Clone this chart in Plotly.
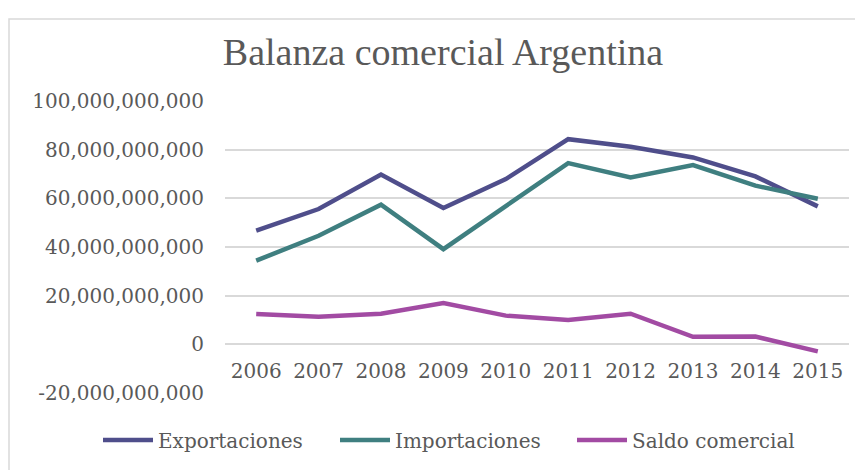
import plotly.graph_objects as go

years = ["2006", "2007", "2008", "2009", "2010", "2011", "2012", "2013", "2014", "2015"]
exportaciones = [46.7e9, 55.6e9, 69.8e9, 56.0e9, 67.9e9, 84.3e9, 81.2e9, 76.8e9, 69.0e9, 56.7e9]
importaciones = [34.4e9, 44.6e9, 57.4e9, 39.1e9, 56.8e9, 74.5e9, 68.6e9, 73.7e9, 65.2e9, 59.8e9]
saldo = [12.5e9, 11.3e9, 12.6e9, 17.0e9, 11.8e9, 10.0e9, 12.6e9, 3.1e9, 3.2e9, -2.9e9]
ytick_vals = [-20e9, 0, 20e9, 40e9, 60e9, 80e9, 100e9]
ytick_text = ["-20,000,000,000", "0", "20,000,000,000", "40,000,000,000",
              "60,000,000,000", "80,000,000,000", "100,000,000,000"]

FONT = "DejaVu Serif"
GREY = "#595959"

fig = go.Figure()
for name, vals, col in [("Exportaciones", exportaciones, "#4F4E8B"),
                        ("Importaciones", importaciones, "#3F7F80"),
                        ("Saldo comercial", saldo, "#A24BA3")]:
    fig.add_trace(go.Scatter(x=years, y=vals, mode="lines", name=name,
                             line=dict(color=col, width=4.5)))

# the page body adds an 8px offset; plot area in figure coords: x 217-841, y 93-385
L, T, PW, PH = 217, 93, 624, 292
fig.update_layout(
    width=863, height=470,
    margin=dict(l=L, r=863 - L - PW, t=T, b=470 - T - PH, autoexpand=False),
    paper_bgcolor="white", plot_bgcolor="white",
    title=dict(text="Balanza comercial Argentina", x=(443 - 8) / 863, xanchor="center",
               y=1 - 44 / 470, yanchor="middle",
               font=dict(family="Liberation Serif", size=38, color=GREY)),
    showlegend=True,
    legend=dict(orientation="h", x=(108 - 8 - 10 - L) / PW, xanchor="left",
                xref="paper", y=(PH + T - 432) / PH, yref="paper", yanchor="middle",
                font=dict(family=FONT, size=20, color=GREY), itemwidth=50,
                entrywidth=172, entrywidthmode="pixels",
                traceorder="normal"),
    xaxis=dict(type="category", range=[-0.5, 9.5], showgrid=False, showline=False,
               zeroline=False, anchor="free", position=20 / 120,
               ticks="outside", ticklen=9, tickcolor="rgba(0,0,0,0)",
               tickfont=dict(family=FONT, size=20, color=GREY)),
    yaxis=dict(range=[-20e9, 100e9], tickvals=ytick_vals, ticktext=ytick_text,
               showgrid=True, gridcolor="#D9D9D9", gridwidth=1.5, zeroline=False,
               showline=False, ticks="outside", ticklen=16, tickcolor="rgba(0,0,0,0)",
               tickfont=dict(family=FONT, size=20, color=GREY)),
    shapes=[dict(type="rect", xref="paper", yref="paper",
                 x0=(1 - L) / PW, x1=(853 - L) / PW,
                 y0=(T + PH - 466) / PH, y1=(T + PH - 11) / PH,
                 line=dict(color="#D9D9D9", width=1.5), layer="below")],
)
fig.write_html("out.html")
